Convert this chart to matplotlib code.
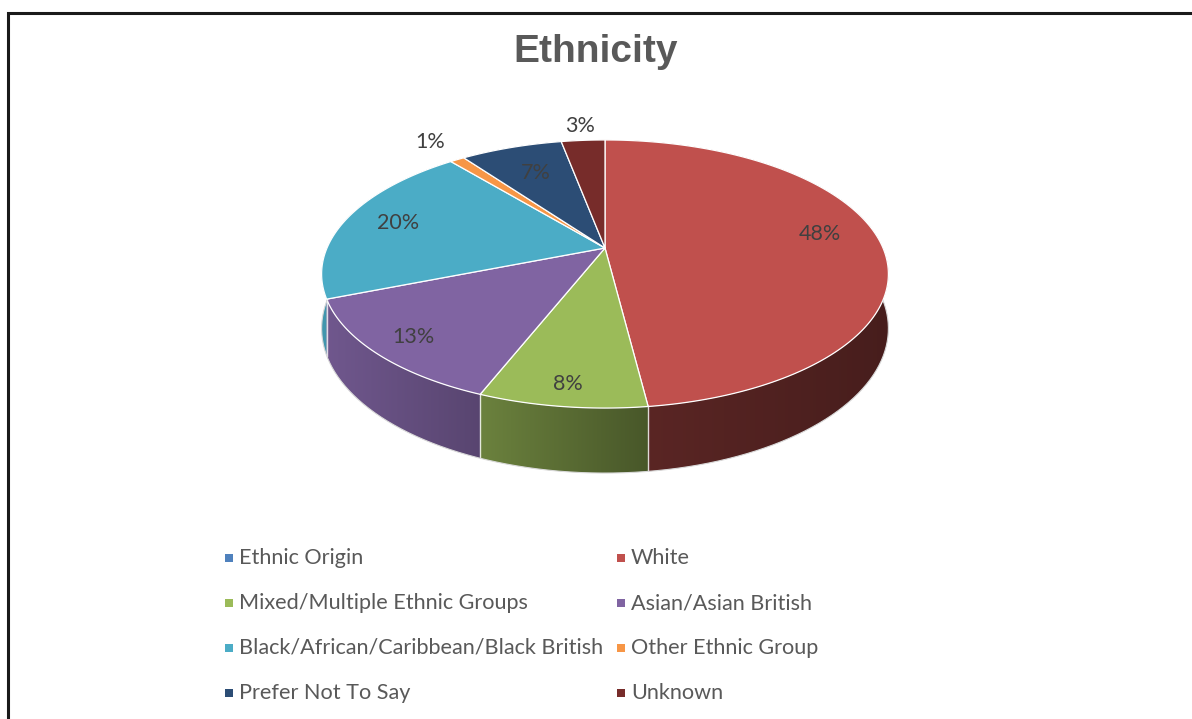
import numpy as np
import matplotlib.pyplot as plt
from matplotlib.colors import to_rgb

groups = ["Ethnic Origin", "White", "Mixed/Multiple Ethnic Groups", "Asian/Asian British",
          "Black/African/Caribbean/Black British", "Other Ethnic Group",
          "Prefer Not To Say", "Unknown"]
shares = [0, 48, 8, 13, 20, 1, 7, 3]
colors = ["#4F81BD", "#C0504D", "#9BBB59", "#8064A2", "#4BACC6", "#F79646",
          "#2C4D75", "#772C2A"]
# radial position of each percentage label (fraction of radius) and a nudge in y
label_r = [0, 0.78, 0.88, 0.86, 0.80, 1.22, 0.71, 1.19]
label_dy = [0, -8, 0, 0, 0, -1, 0, 2]

# tilted disc with a little perspective
CX, CY = 605, 248
A, B, K, DEPTH = 278, 129, 0.194, 52.4


def project(r, theta, drop=0.0):
    # theta runs clockwise from 12 o'clock
    u = r * np.sin(theta)
    v = r * np.cos(theta)
    w = 1 + K * v
    return CX + A * u / w, CY - B * v / w + drop / w


def shade(col, x):
    # side walls are lit from the left
    f = np.interp(x, [320, 490, 645, 890], [0.88, 0.68, 0.47, 0.37])
    return np.outer(f, to_rgb(col))


fig = plt.figure(figsize=(11.92, 7.19), dpi=100)
ax = fig.add_axes([0, 0, 1, 1])

total = sum(shares)
bounds = np.concatenate([[0], np.cumsum(shares)]) / total * 2 * np.pi

# outer walls: one outline per slice, filled with a left-to-right gradient
xs_grad = np.linspace(300, 910, 400)
wall_order = sorted([i for i, s in enumerate(shares) if s > 0],
                    key=lambda i: -np.cos((bounds[i] + bounds[i + 1]) / 2))
for i in wall_order:
    t = np.linspace(bounds[i], bounds[i + 1], max(int(shares[i] * 8), 6))
    tx, ty = project(1, t)
    bx, by = project(1, t, DEPTH)
    outline = list(zip(tx, ty)) + list(zip(bx[::-1], by[::-1]))
    patch = plt.Polygon(outline, closed=True, facecolor="none", edgecolor="none")
    ax.add_patch(patch)
    grad = shade(colors[i], xs_grad)[None, :, :]
    img = ax.imshow(grad, extent=(300, 910, 480, 130), aspect="auto",
                    interpolation="bilinear")
    img.set_clip_path(patch)

ax.set_xlim(0, 1192)
ax.set_ylim(719, 0)
ax.axis("off")

# slice seams on the front of the wall
for a in bounds:
    if np.cos(a) < -0.05:
        x0, y0 = project(1, a)
        _, y1 = project(1, a, DEPTH)
        ax.plot([x0, x0], [y0, y1], color="white", lw=1.0, alpha=0.8)

# bottom rim
tt = np.linspace(np.pi / 2, 3 * np.pi / 2, 200)
bx, by = project(1, tt, DEPTH)
ax.plot(bx, by, color="#d9d9d9", lw=0.8)

# top face
for i, s in enumerate(shares):
    if s == 0:
        continue
    t = np.linspace(bounds[i], bounds[i + 1], max(int(s * 6), 4))
    xs, ys = project(1, t)
    pts = [(CX, CY)] + list(zip(xs, ys))
    ax.add_patch(plt.Polygon(pts, closed=True, facecolor=colors[i],
                             edgecolor="white", lw=0.9, joinstyle="round"))

# percentage labels
for i, s in enumerate(shares):
    if s == 0:
        continue
    mid = (bounds[i] + bounds[i + 1]) / 2
    lx, ly = project(label_r[i], mid)
    ax.text(lx, ly + label_dy[i], f"{s / total * 100:.0f}%", ha="center", va="center",
            fontsize=15.5, color="#404040", family="Lato")

ax.text(596, 52, "Ethnicity", ha="center", va="center", fontsize=28,
        fontweight="bold", color="#595959", family="Liberation Sans")

# legend, two per row
for i, name in enumerate(groups):
    row, col = divmod(i, 2)
    x = 229 if col == 0 else 621
    y = 558 + row * 45
    ax.scatter([x], [y], marker="s", s=34, color=colors[i], linewidths=0)
    ax.text(x + 10, y, name, ha="left", va="center", fontsize=15.6,
            color="#595959", family="Lato")

# chart frame
ax.plot([8, 8, 1192], [719, 13, 13], color="#1a1a1a", lw=2.2, solid_joinstyle="miter")

fig.savefig("out.png", dpi=100)
